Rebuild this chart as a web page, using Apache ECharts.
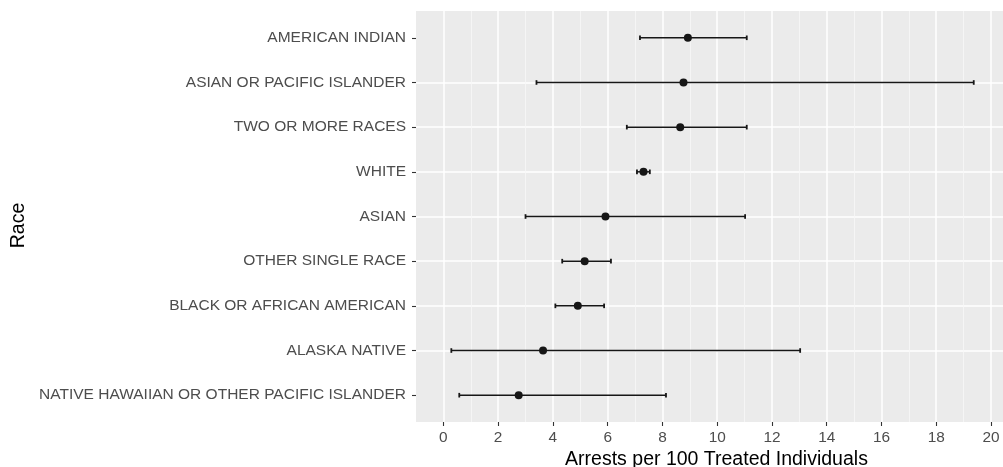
<!DOCTYPE html>
<html><head><meta charset="utf-8">
<script src="https://cdn.jsdelivr.net/npm/echarts@6/dist/echarts.min.js"></script>
<style>html,body{margin:0;padding:0;background:#fff}#c{width:1003px;height:467px}</style>
</head><body><div id="c"></div>
<script>
// Categories bottom-to-top
const categories = ["NATIVE HAWAIIAN OR OTHER PACIFIC ISLANDER","ALASKA NATIVE","BLACK OR AFRICAN AMERICAN","OTHER SINGLE RACE","ASIAN","WHITE","TWO OR MORE RACES","ASIAN OR PACIFIC ISLANDER","AMERICAN INDIAN"];
const rates = [2.75, 3.64, 4.91, 5.16, 5.92, 7.31, 8.65, 8.77, 8.93];
const lower = [0.58, 0.29, 4.09, 4.34, 3.00, 7.07, 6.70, 3.40, 7.18];
const upper = [8.13, 13.03, 5.87, 6.12, 11.02, 7.54, 11.08, 19.37, 11.08];
const xTicks = [0, 2, 4, 6, 8, 10, 12, 14, 16, 18, 20];
const yTicks = [1, 2, 3, 4, 5, 6, 7, 8, 9];

const FONT = "'Liberation Sans', Arial, Helvetica, sans-serif";
const INK = '#161616';

const errData = categories.map((c, i) => [i + 1, lower[i], upper[i]]);
const ptData = categories.map((c, i) => [rates[i], i + 1]);

const chart = echarts.init(document.getElementById('c'), null, {renderer: 'canvas'});
chart.setOption({
  animation: false,
  backgroundColor: '#ffffff',
  textStyle: {fontFamily: FONT},
  grid: {left: 416, top: 11, right: -14, bottom: 45, containLabel: false, outerBoundsMode: 'none',
         show: true, backgroundColor: '#ebebeb', borderWidth: 0},
  xAxis: {
    type: 'value', min: -1, max: 20.95, minInterval: 2, maxInterval: 2, splitNumber: 10,
    axisLine: {show: false, onZero: false},
    axisTick: {show: true, customValues: xTicks, length: 4, lineStyle: {color: '#333333', width: 1.1}},
    axisLabel: {customValues: xTicks, color: '#4d4d4d', fontSize: 15.4, margin: 8, fontFamily: FONT},
    splitLine: {show: true, lineStyle: {color: '#ffffff', width: 1.5}},
    minorTick: {show: false, splitNumber: 2},
    minorSplitLine: {show: true, lineStyle: {color: '#f7f7f7', width: 0.8}},
    name: 'Arrests per 100 Treated Individuals', nameLocation: 'middle', nameGap: 26,
    nameTextStyle: {color: '#000000', fontSize: 19.5, fontFamily: FONT}
  },
  yAxis: {
    type: 'value', min: 0.4, max: 9.6, minInterval: 1, maxInterval: 1, splitNumber: 9,
    axisLine: {show: false, onZero: false},
    axisTick: {show: true, customValues: yTicks, length: 4, lineStyle: {color: '#333333', width: 1.1}},
    axisLabel: {customValues: yTicks, color: '#4d4d4d', fontSize: 15.5, margin: 10, fontFamily: FONT,
      formatter: v => categories[Math.round(v) - 1] || ''},
    splitLine: {show: true, showMinLine: false, showMaxLine: false, lineStyle: {color: '#ffffff', width: 1.5}},
    name: 'Race', nameLocation: 'middle', nameRotate: 90, nameGap: 386,
    nameTextStyle: {color: '#000000', fontSize: 19.5, fontFamily: FONT, padding: [0, 18, 0, 0]}
  },
  series: [
    {
      type: 'custom',
      data: errData,
      encode: {x: [1, 2], y: 0},
      renderItem: function (params, api) {
        const y = api.value(0), lo = api.value(1), hi = api.value(2);
        const p1 = api.coord([lo, y]), p2 = api.coord([hi, y]);
        const h = 2.3;
        const st = {stroke: INK, lineWidth: 1.5};
        return {type: 'group', children: [
          {type: 'line', shape: {x1: p1[0], y1: p1[1], x2: p2[0], y2: p2[1]}, style: st},
          {type: 'line', shape: {x1: p1[0], y1: p1[1] - h, x2: p1[0], y2: p1[1] + h}, style: {stroke: INK, lineWidth: 1.8}},
          {type: 'line', shape: {x1: p2[0], y1: p2[1] - h, x2: p2[0], y2: p2[1] + h}, style: {stroke: INK, lineWidth: 1.8}}
        ]};
      },
      z: 2
    },
    {
      type: 'scatter', data: ptData, symbol: 'circle', symbolSize: 8,
      itemStyle: {color: INK, opacity: 1}, z: 3
    }
  ]
});
</script>
</body></html>
